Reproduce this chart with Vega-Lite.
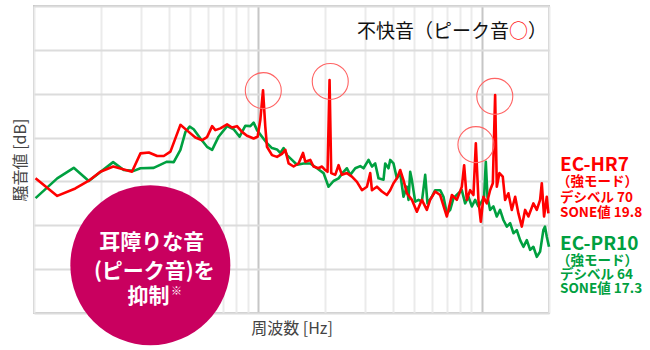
{
  "$schema": "https://vega.github.io/schema/vega-lite/v6.json",
  "width": 515,
  "height": 307,
  "autosize": "none",
  "padding": {"left": 34, "top": 6, "right": 101, "bottom": 37},
  "background": "white",
  "config": {
    "view": {"stroke": "#c8c8c8", "strokeWidth": 2},
    "font": "Noto Sans CJK JP"
  },
  "datasets": {
    "hr7": [
      {"f":101.6,"db":30.7},{"f":127,"db":26.7},{"f":153,"db":28.4},{"f":175,"db":30.1},{"f":198,"db":32.2},{"f":226,"db":33.4},{"f":274,"db":32.2},{"f":299,"db":36.4},{"f":326,"db":36.6},{"f":355,"db":35.8},{"f":380,"db":35.8},{"f":407,"db":36.8},{"f":451,"db":42.9},{"f":491,"db":41.3},{"f":526,"db":40.0},{"f":564,"db":39.4},{"f":593,"db":40.1},{"f":625,"db":42.6},{"f":646,"db":41.7},{"f":680,"db":42.1},{"f":729,"db":43.0},{"f":767,"db":42.3},{"f":807,"db":42.6},{"f":850,"db":41.3},{"f":895,"db":40.4},{"f":958,"db":39.8},{"f":998,"db":40.2},{"f":1026,"db":44.0},{"f":1055,"db":50.8},{"f":1080,"db":42.5},{"f":1099,"db":37.9},{"f":1157,"db":36.0},{"f":1218,"db":35.6},{"f":1282,"db":36.3},{"f":1327,"db":37.2},{"f":1373,"db":34.1},{"f":1445,"db":33.4},{"f":1521,"db":34.1},{"f":1592,"db":36.5},{"f":1629,"db":34.5},{"f":1715,"db":34.9},{"f":1774,"db":33.4},{"f":1868,"db":33.0},{"f":1935,"db":33.4},{"f":2001,"db":32.6},{"f":2049,"db":32.2},{"f":2092,"db":53.1},{"f":2128,"db":31.9},{"f":2218,"db":31.5},{"f":2295,"db":33.7},{"f":2376,"db":31.5},{"f":2501,"db":31.9},{"f":2633,"db":31.1},{"f":2773,"db":29.9},{"f":2919,"db":28.0},{"f":3073,"db":28.8},{"f":3179,"db":31.9},{"f":3235,"db":28.0},{"f":3405,"db":28.8},{"f":3585,"db":27.7},{"f":3774,"db":26.9},{"f":3904,"db":28.0},{"f":4039,"db":29.6},{"f":4182,"db":30.7},{"f":4327,"db":32.6},{"f":4476,"db":30.3},{"f":4635,"db":27.3},{"f":4880,"db":25.8},{"f":5137,"db":23.1},{"f":5408,"db":25.8},{"f":5693,"db":23.5},{"f":5889,"db":25.8},{"f":6200,"db":27.7},{"f":6527,"db":26.9},{"f":6993,"db":22.0},{"f":7362,"db":26.9},{"f":7750,"db":25.8},{"f":8158,"db":28.8},{"f":8354,"db":33.7},{"f":8588,"db":25.8},{"f":8885,"db":28.0},{"f":9193,"db":26.9},{"f":9421,"db":38.7},{"f":9676,"db":25.8},{"f":9918,"db":20.8},{"f":10186,"db":26.5},{"f":10548,"db":25.0},{"f":10912,"db":28.0},{"f":11220,"db":29.6},{"f":11490,"db":49.7},{"f":11690,"db":28.8},{"f":12010,"db":31.9},{"f":12430,"db":31.1},{"f":12730,"db":25.8},{"f":13170,"db":27.3},{"f":13640,"db":23.5},{"f":14120,"db":26.5},{"f":14600,"db":22.7},{"f":15120,"db":19.7},{"f":15640,"db":23.5},{"f":16180,"db":22.0},{"f":17030,"db":25.0},{"f":17640,"db":23.5},{"f":18250,"db":25.8},{"f":18570,"db":29.6},{"f":19010,"db":22.0},{"f":19550,"db":26.5},{"f":19870,"db":22.7}
    ],
    "pr10": [
      {"f":101.6,"db":26.2},{"f":127,"db":30.7},{"f":150.5,"db":33.1},{"f":175.7,"db":30.1},{"f":225.7,"db":34.4},{"f":251.8,"db":32.6},{"f":279,"db":32.4},{"f":299,"db":33.0},{"f":342.6,"db":33.1},{"f":393,"db":34.5},{"f":421,"db":34.4},{"f":451,"db":37.2},{"f":475,"db":41.3},{"f":496,"db":42.5},{"f":517,"db":41.9},{"f":554,"db":39.8},{"f":593,"db":37.9},{"f":625,"db":37.2},{"f":668,"db":40.2},{"f":729,"db":42.6},{"f":780,"db":41.9},{"f":829,"db":40.2},{"f":880,"db":42.7},{"f":926,"db":42.6},{"f":958,"db":43.4},{"f":992,"db":41.7},{"f":1044,"db":40.2},{"f":1099,"db":38.7},{"f":1157,"db":37.6},{"f":1218,"db":37.3},{"f":1260,"db":36.5},{"f":1304,"db":37.6},{"f":1350,"db":36.0},{"f":1421,"db":34.9},{"f":1496,"db":33.8},{"f":1602,"db":34.1},{"f":1715,"db":34.1},{"f":1838,"db":33.0},{"f":1967,"db":31.9},{"f":2070,"db":28.8},{"f":2180,"db":30.1},{"f":2295,"db":30.7},{"f":2415,"db":32.2},{"f":2501,"db":33.0},{"f":2587,"db":31.5},{"f":2725,"db":33.0},{"f":2869,"db":33.5},{"f":2968,"db":33.0},{"f":3124,"db":34.9},{"f":3235,"db":33.4},{"f":3346,"db":34.1},{"f":3462,"db":30.7},{"f":3644,"db":30.4},{"f":3709,"db":34.1},{"f":3836,"db":33.0},{"f":3904,"db":34.9},{"f":4039,"db":34.1},{"f":4182,"db":30.7},{"f":4327,"db":31.9},{"f":4476,"db":26.5},{"f":4635,"db":28.8},{"f":4713,"db":25.8},{"f":4796,"db":32.2},{"f":4880,"db":30.3},{"f":5049,"db":25.4},{"f":5224,"db":25.8},{"f":5408,"db":25.4},{"f":5596,"db":31.5},{"f":5728,"db":25.0},{"f":5994,"db":26.5},{"f":6200,"db":28.0},{"f":6527,"db":28.0},{"f":6754,"db":26.5},{"f":6993,"db":22.7},{"f":7235,"db":23.5},{"f":7484,"db":26.2},{"f":7878,"db":27.3},{"f":8158,"db":28.0},{"f":8439,"db":25.0},{"f":8733,"db":26.5},{"f":9043,"db":24.3},{"f":9355,"db":25.8},{"f":9676,"db":24.3},{"f":10020,"db":25.4},{"f":10260,"db":26.5},{"f":10440,"db":34.5},{"f":10620,"db":26.5},{"f":10912,"db":23.5},{"f":11290,"db":24.3},{"f":11690,"db":22.0},{"f":12090,"db":23.5},{"f":12510,"db":21.2},{"f":12960,"db":19.7},{"f":13410,"db":20.5},{"f":13870,"db":18.2},{"f":14360,"db":18.9},{"f":14860,"db":16.6},{"f":15370,"db":15.1},{"f":15920,"db":16.6},{"f":16470,"db":14.4},{"f":17030,"db":15.1},{"f":17640,"db":12.8},{"f":18250,"db":14.0},{"f":18870,"db":18.9},{"f":19200,"db":19.7},{"f":19550,"db":17.4},{"f":20000,"db":15.1}
    ],
    "peaks": [
      {"f":1058,"db":50.7},{"f":2107,"db":52.8},{"f":9430,"db":38.4},{"f":11450,"db":49.4}
    ]
  },
  "encoding": {
    "x": {
      "field": "f", "type": "quantitative",
      "scale": {"type": "log", "domain": [100, 20000], "nice": false},
      "axis": {
        "title": "周波数 [Hz]",
        "values": [100,200,300,400,500,600,700,800,900,1000,2000,3000,4000,5000,6000,7000,8000,9000,10000,20000],
        "labels": false, "ticks": false, "domain": false,
        "gridColor": {"condition": {"test": "datum.value === 1000 || datum.value === 10000", "value": "#c6c6c6"}, "value": "#ebebeb"},
        "gridWidth": 2,
        "titleFontSize": 16, "titleFontWeight": "normal", "titleColor": "#444444", "titlePadding": 7
      }
    },
    "y": {
      "field": "db", "type": "quantitative",
      "scale": {"domain": [0, 70], "nice": false, "zero": false},
      "axis": {
        "title": "騒音値 [dB]",
        "values": [0,10,20,30,40,50,60,70],
        "labels": false, "ticks": false, "domain": false,
        "gridColor": "#dcdcdc", "gridWidth": 2,
        "titleFontSize": 16, "titleFontWeight": "normal", "titleColor": "#444444", "titlePadding": 6
      }
    }
  },
  "layer": [
    {"data": {"name": "pr10"}, "mark": {"type": "line", "color": "#00a040", "strokeWidth": 2.6, "strokeJoin": "round"}},
    {"data": {"name": "hr7"}, "mark": {"type": "line", "color": "#ff0000", "strokeWidth": 2.6, "strokeJoin": "round"}},
    {"data": {"name": "peaks"}, "mark": {"type": "point", "shape": "circle", "filled": false, "stroke": "#ff6464", "strokeWidth": 1.1, "size": 1296, "opacity": 1}},
    {"data": {"values": [{"f": 331, "db": 10.9}]}, "mark": {"type": "point", "shape": "circle", "filled": true, "color": "#c9005f", "size": 25600, "opacity": 1}},
    {"data": {"values": [
      {"f": 336, "db": 16.0, "t": "耳障りな音"},
      {"f": 345, "db": 9.35, "t": "(ピーク音)を"},
      {"f": 324.5, "db": 3.65, "t": "抑制"}
    ]}, "mark": {"type": "text", "fontSize": 21, "fontWeight": "bold", "color": "white", "align": "center", "baseline": "middle"}, "encoding": {"text": {"field": "t"}}},
    {"data": {"values": [{"f": 433, "db": 4.8, "t": "※"}]}, "mark": {"type": "text", "fontSize": 11, "fontWeight": "bold", "color": "white", "align": "center", "baseline": "middle"}, "encoding": {"text": {"field": "t"}}},
    {"data": {"values": [{"f": 13270, "db": 64.1, "t": "不快音（ピーク音"}]}, "mark": {"type": "text", "fontSize": 19, "color": "#111111", "align": "right", "baseline": "middle"}, "encoding": {"text": {"field": "t"}}},
    {"data": {"values": [{"f": 14630, "db": 64.1, "t": "○"}]}, "mark": {"type": "text", "fontSize": 19, "color": "#ff2020", "align": "center", "baseline": "middle"}, "encoding": {"text": {"field": "t"}}},
    {"data": {"values": [{"f": 16130, "db": 64.1, "t": "）"}]}, "mark": {"type": "text", "fontSize": 19, "color": "#111111", "align": "left", "baseline": "middle"}, "encoding": {"text": {"field": "t"}}},
    {"data": {"values": [{"f": 22400, "db": 33.8, "t": "EC-HR7"}]}, "mark": {"type": "text", "fontSize": 19, "fontWeight": "bold", "color": "#ff0000", "align": "left", "baseline": "middle"}, "encoding": {"text": {"field": "t"}}},
    {"data": {"values": [
      {"f": 21700, "db": 29.9, "t": "（強モード）"},
      {"f": 22400, "db": 26.3, "t": "デシベル 70"},
      {"f": 22400, "db": 22.9, "t": "SONE値 19.8"}
    ]}, "mark": {"type": "text", "fontSize": 13.5, "fontWeight": "bold", "color": "#ff0000", "align": "left", "baseline": "middle"}, "encoding": {"text": {"field": "t"}}},
    {"data": {"values": [{"f": 22400, "db": 15.7, "t": "EC-PR10"}]}, "mark": {"type": "text", "fontSize": 19, "fontWeight": "bold", "color": "#00a040", "align": "left", "baseline": "middle"}, "encoding": {"text": {"field": "t"}}},
    {"data": {"values": [
      {"f": 21700, "db": 11.9, "t": "（強モード）"},
      {"f": 22400, "db": 8.6, "t": "デシベル 64"},
      {"f": 22400, "db": 5.4, "t": "SONE値 17.3"}
    ]}, "mark": {"type": "text", "fontSize": 13.5, "fontWeight": "bold", "color": "#00a040", "align": "left", "baseline": "middle"}, "encoding": {"text": {"field": "t"}}}
  ]
}
